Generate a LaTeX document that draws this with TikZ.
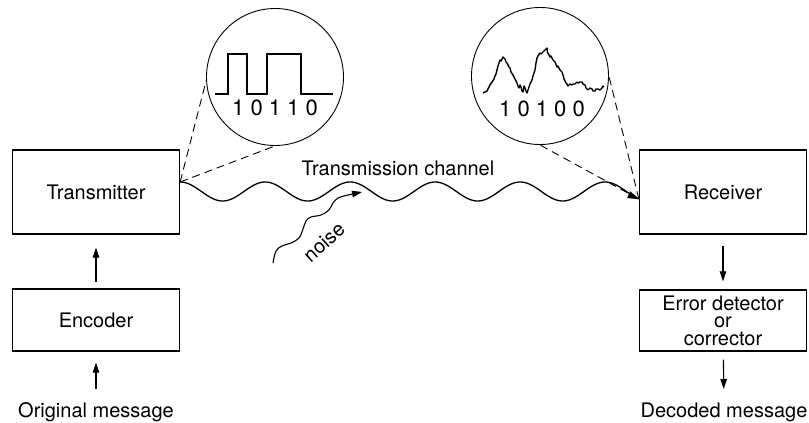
\documentclass[tikz,border=0pt]{standalone}
\usepackage{fontspec}
\setmainfont{TeX Gyre Heros}
\usepackage{tikz}
\usetikzlibrary{arrows.meta,positioning,calc}

\begin{document}
\begin{tikzpicture}[
    x=1pt, y=-1pt,
    box/.style={draw, line width=1.3pt, minimum width=167pt, font=\fontsize{20}{17.5}\selectfont, align=center},
    lens/.style={draw, circle, line width=0.9pt, minimum size=137pt, inner sep=0pt},
    arrow/.style={-{Triangle[length=10pt,width=6.5pt]}, line width=1.1pt},
    guide/.style={dashed, dash pattern=on 8pt off 5pt, line width=0.9pt},
    signal/.style={line width=1.3pt},
    label/.style={font=\fontsize{20}{22}\selectfont},
    digits/.style={font=\fontsize{22}{24}\selectfont}
]
\useasboundingbox (0,0) rectangle (809,423);

% Boxes
\node[box, minimum height=84pt] (tx) at (96,192) {Transmitter};
\node[box, minimum height=62pt] (enc) at (96,320) {Encoder};
\node[box, minimum height=84pt] (rx) at (723,192) {Receiver};
\node[box, minimum height=61pt] (err) at (723,320.5) {Error detector\\or\\corrector};

% End labels
\node[label] (orig) at (96,412) {Original message};
\node[label] (dec) at (724,412) {Decoded message};

% Arrows
\draw[arrow, shorten <=6pt, shorten >=13pt] (enc) -- (tx);
\draw[arrow, shorten <=10pt, shorten >=11pt] (orig) -- (enc);
\draw[arrow, shorten <=11pt, shorten >=8pt] (rx) -- (err);
\draw[arrow, shorten <=8pt, shorten >=10pt] (err) -- (dec);

% Channel
\coordinate (txout) at ($(tx.east)+(0,-10)$);
\coordinate (rxin) at ($(rx.west)+(0,7)$);
\draw[-{Triangle[length=12pt,width=7pt]}, line width=1.3pt, shift={(tx.east)}]
    plot[domain=0:459.5, samples=260] ({\x},{-0.5-9.5*cos(4.23529*\x)});
\node[label] (chan) at (398,168) {Transmission channel};

% Noise
\coordinate (nstart) at (273,263);
\coordinate (nend) at (362,192);
\draw[arrow] plot[smooth, tension=0.6] coordinates {(nstart) (276,251) (282,246) (291,243)
    (299,238) (303,229) (306,221) (311,217) (321,215) (329,210) (333,203) (338,198)
    (346,195.5) (nend)};
\node[label, rotate=42] (noise) at (324,242) {noise};

% Lenses
\node[lens] (sent) at (275,77) {};
\node[lens] (recv) at (540,76) {};
\draw[signal] (215,94) -- (228,94) -- (228,54) -- (247,54) -- (247,94) -- (267,94)
    -- (267,54) -- (301,54) -- (301,94) -- (333,94);
\node[digits] (sentbits) at (275,108) {1 0 1 1 0};
\draw[signal, line width=1.4pt, line join=round] plot coordinates {
    (483,93) (485,92) (487,91) (489,87) (490,85) (492,82) (494,79) (495,76) (496,74)
    (497,70) (498,66) (500,60) (501,61) (503,57) (504,58) (505,59) (506,62) (507,63)
    (509,67) (510,68) (511,72) (513,75) (515,79) (517,83) (518,86) (519,88) (520,85)
    (521,87) (522,91) (523,92) (524,86) (525,88) (526,91) (527,93) (528,90) (529,87)
    (530,84) (532,80) (533,76) (535,70) (536,63) (537,58) (538,56) (540,53) (541,54)
    (543,52) (545,50) (547,48) (547.5,53) (548,53) (549,55) (550,57) (551,56) (553,60)
    (555,62) (557,67) (558,66) (560,70) (562,72) (563,75) (564,79) (566,83) (567,84)
    (568,86) (570,84) (572,85) (573,84) (575,84) (577,82) (578,83) (580,82) (582,82)
    (583,84) (585,85) (586,88) (588,90) (590,88) (592,89) (593,91) (595,91) (596,89)
    (598,89) (600,90) (602,88) (603,86) (604,87)};
\node[digits] (recvbits) at (542,109) {1 0 1 0 0};

% Guides
\draw[guide] (txout) -- (sent.183);
\draw[guide] (txout) -- (sent.south);
\draw[guide] (rxin) -- (recv.east);
\draw[guide] (rxin) -- (recv.south);
\end{tikzpicture}
\end{document}
